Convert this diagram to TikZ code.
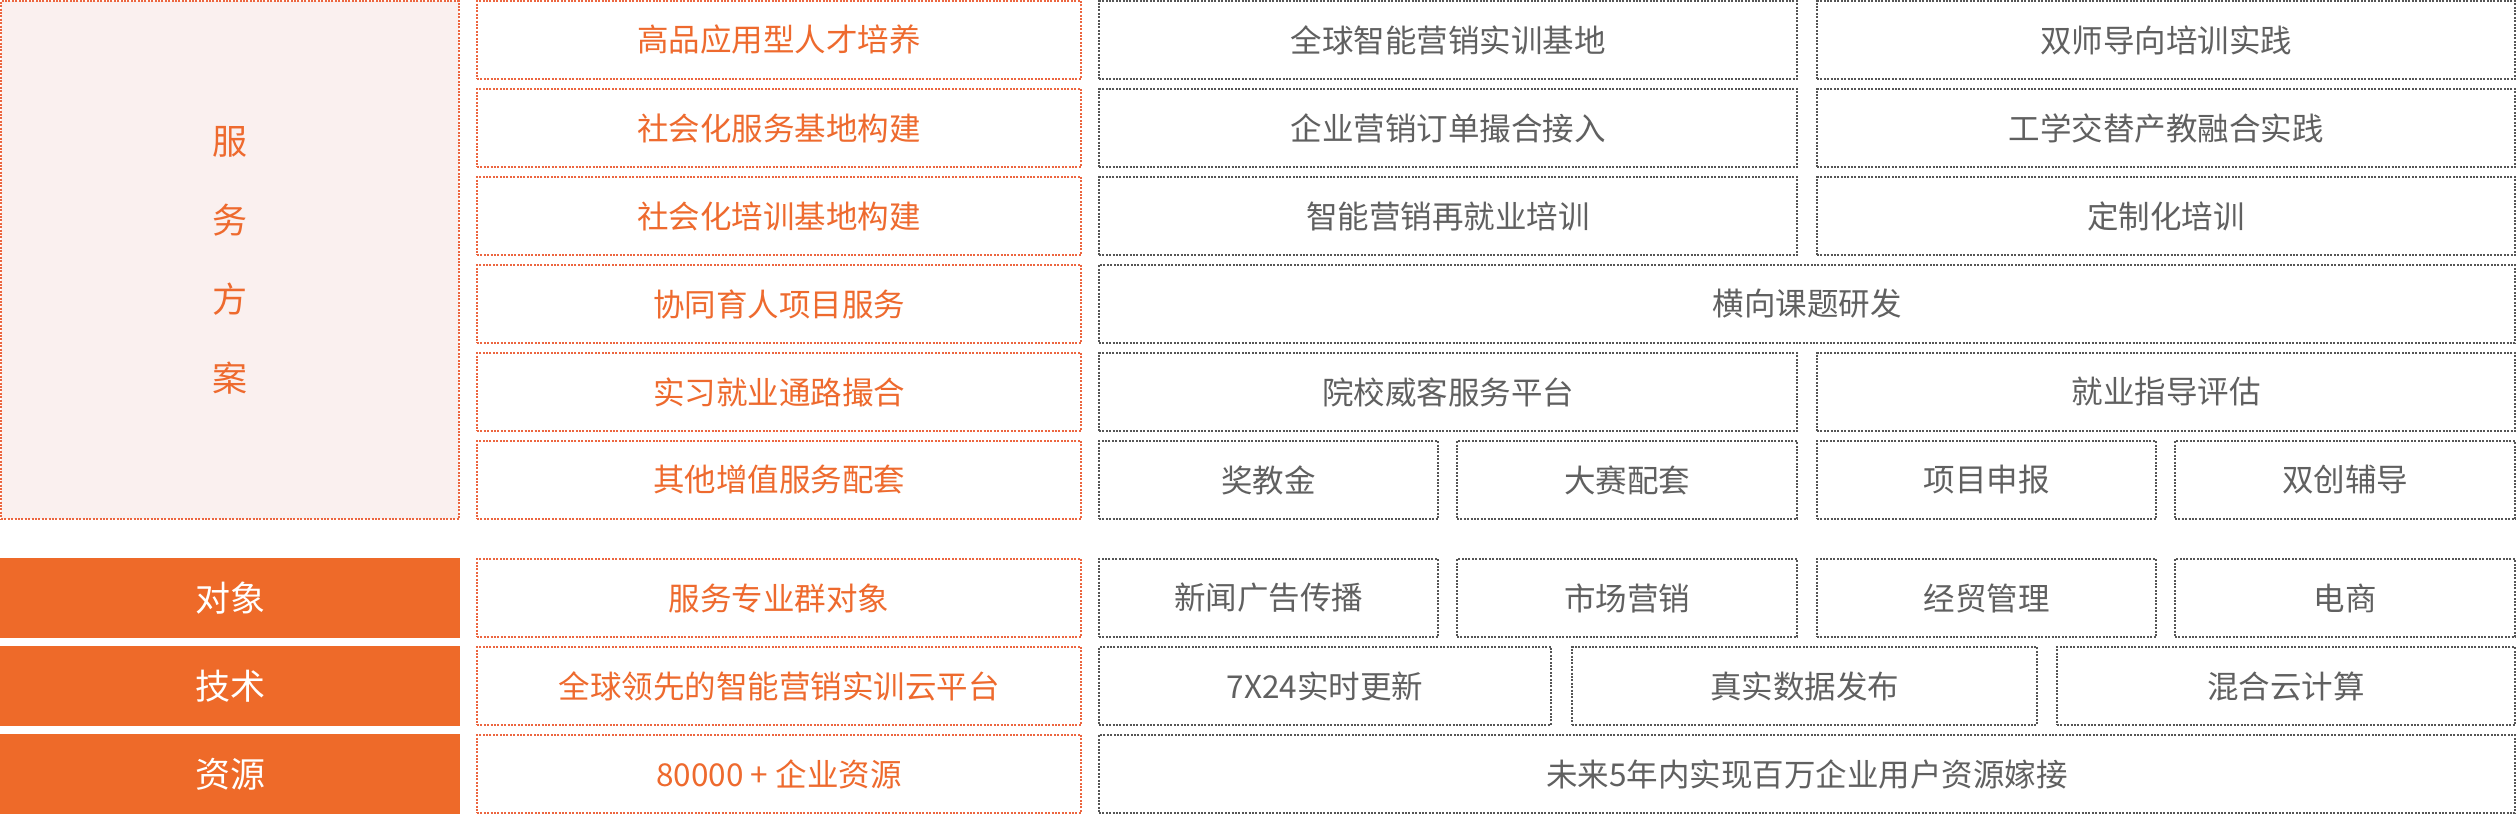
\documentclass[tikz,border=0pt]{standalone}
\usepackage{fontspec}
\setmainfont{Noto Sans CJK SC}
\definecolor{orangefill}{HTML}{EE6A29}
\definecolor{orangeline}{HTML}{EC6640}
\definecolor{orangetext}{HTML}{EE6A2E}
\definecolor{grayline}{HTML}{555555}
\definecolor{graytext}{HTML}{606060}
\definecolor{pinkfill}{HTML}{FAF0EF}
\newcommand{\cellbox}[7]{%
  \pgfmathsetmacro\cellw{#4-#2}\pgfmathsetmacro\cellh{#5-#3}%
  \node[#6, minimum width=\cellw pt, minimum height=\cellh pt, anchor=north west] (#1) at (#2,#3) {#7};}
\begin{document}
\begin{tikzpicture}[x=1pt,y=-1pt,
  base/.style={inner sep=0pt, outer sep=0pt, rectangle, line width=2pt},
  obox/.style={base, draw=orangeline, dash pattern=on 2pt off 1.4pt, fill=white, text=orangetext, font=\fontsize{31.5}{36}\selectfont},
  gbox/.style={base, draw=grayline, dash pattern=on 2pt off 1.4pt, fill=white, text=graytext, font=\fontsize{31.5}{36}\selectfont},
  pbox/.style={base, draw=orangeline, dash pattern=on 2pt off 1.4pt, fill=pinkfill, text=orangetext, align=center, font=\fontsize{35}{79}\selectfont},
  fbox/.style={base, fill=orangefill, text=white, font=\fontsize{35}{40}\selectfont}]
\useasboundingbox (0,0) rectangle (2516,814);
% left big box
\cellbox{plan}{1}{1}{459}{519}{pbox}{服\\务\\方\\案}
% rows
\cellbox{a1}{477}{1}{1081}{79}{obox}{高品应用型人才培养}
\cellbox{a2}{477}{89}{1081}{167}{obox}{社会化服务基地构建}
\cellbox{a3}{477}{177}{1081}{255}{obox}{社会化培训基地构建}
\cellbox{a4}{477}{265}{1081}{343}{obox}{协同育人项目服务}
\cellbox{a5}{477}{353}{1081}{431}{obox}{实习就业通路撮合}
\cellbox{a6}{477}{441}{1081}{519}{obox}{其他增值服务配套}
\cellbox{b1}{1099}{1}{1797}{79}{gbox}{全球智能营销实训基地}
\cellbox{c1}{1817}{1}{2515}{79}{gbox}{双师导向培训实践}
\cellbox{b2}{1099}{89}{1797}{167}{gbox}{企业营销订单撮合接入}
\cellbox{c2}{1817}{89}{2515}{167}{gbox}{工学交替产教融合实践}
\cellbox{b3}{1099}{177}{1797}{255}{gbox}{智能营销再就业培训}
\cellbox{c3}{1817}{177}{2515}{255}{gbox}{定制化培训}
\cellbox{b4}{1099}{265}{2515}{343}{gbox}{横向课题研发}
\cellbox{b5}{1099}{353}{1797}{431}{gbox}{院校威客服务平台}
\cellbox{c5}{1817}{353}{2515}{431}{gbox}{就业指导评估}
\cellbox{b6}{1099}{441}{1438}{519}{gbox}{奖教金}
\cellbox{c6}{1457}{441}{1797}{519}{gbox}{大赛配套}
\cellbox{d6}{1817}{441}{2156}{519}{gbox}{项目申报}
\cellbox{e6}{2175}{441}{2515}{519}{gbox}{双创辅导}
% bottom section
\cellbox{obj}{0}{558}{460}{638}{fbox}{对象}
\cellbox{tech}{0}{646}{460}{726}{fbox}{技术}
\cellbox{res}{0}{734}{460}{814}{fbox}{资源}
\cellbox{o1}{477}{559}{1081}{637}{obox}{服务专业群对象}
\cellbox{o2}{477}{647}{1081}{725}{obox}{全球领先的智能营销实训云平台}
\cellbox{o3}{477}{735}{1081}{813}{obox}{80000 + 企业资源}
\cellbox{p1}{1099}{559}{1438}{637}{gbox}{新闻广告传播}
\cellbox{p2}{1457}{559}{1797}{637}{gbox}{市场营销}
\cellbox{p3}{1817}{559}{2156}{637}{gbox}{经贸管理}
\cellbox{p4}{2175}{559}{2515}{637}{gbox}{电商}
\cellbox{q1}{1099}{647}{1551}{725}{gbox}{7X24实时更新}
\cellbox{q2}{1572}{647}{2037}{725}{gbox}{真实数据发布}
\cellbox{q3}{2057}{647}{2515}{725}{gbox}{混合云计算}
\cellbox{r1}{1099}{735}{2515}{813}{gbox}{未来5年内实现百万企业用户资源嫁接}
\end{tikzpicture}
\end{document}
